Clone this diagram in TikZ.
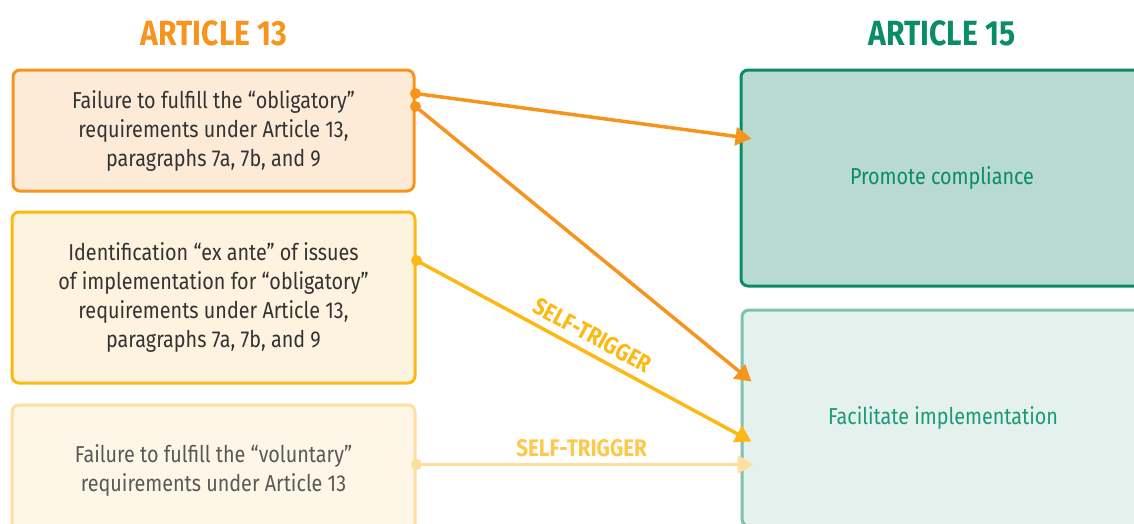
\documentclass[tikz,border=0pt]{standalone}
\usepackage{fontspec}
\setmainfont{Fira Sans}[FakeStretch=0.86]
\usetikzlibrary{arrows.meta,calc}
\definecolor{orA}{HTML}{F7941D}
\definecolor{orF}{HTML}{FDEBD8}
\definecolor{yeA}{HTML}{FDB913}
\definecolor{yeF}{HTML}{FEF3DF}
\definecolor{ltA}{HTML}{FFDF9F}
\definecolor{ltF}{HTML}{FEF6E7}
\definecolor{ltT}{HTML}{FFC84A}
\definecolor{grA}{HTML}{0A8C66}
\definecolor{grF}{HTML}{B9DAD0}
\definecolor{mgA}{HTML}{80C2AE}
\definecolor{mgF}{HTML}{E4F1ED}
\definecolor{mgT}{HTML}{1A9A78}
\definecolor{txt}{HTML}{333333}
\tikzset{
  box/.style={draw, line width=3pt, rounded corners=7pt, align=center, inner sep=0pt,
    font=\fontsize{23}{29}\selectfont},
  conn/.style={line width=3.5pt, -{Triangle[length=16pt,width=18pt]}},
  dot/.style={circle, fill, inner sep=0pt, minimum size=11pt},
  title/.style={font=\fontsize{35}{38}\selectfont\bfseries},
  trig/.style={font=\fontsize{24}{26}\selectfont\bfseries}
}
\begin{document}
\begin{tikzpicture}[x=1pt,y=-1pt]
\useasboundingbox (0,0) rectangle (1134,523);
\clip (0,0) rectangle (1134,523);
\node[title, text=orA] (t13) at (214,33) {ARTICLE 13};
\node[title, text=grA] (t15) at (942,33) {ARTICLE 15};
\node[box, draw=orA, fill=orF, text=txt, minimum width=401pt, minimum height=121pt] (b1) at (213.5,130.5)
  {Failure to fulfill the “obligatory”\\requirements under Article 13,\\paragraphs 7a, 7b, and 9};
\node[box, draw=yeA, fill=yeF, text=txt, minimum width=403pt, minimum height=171pt] (b2) at (213.5,297.5)
  {Identification “ex ante” of issues\\of implementation for “obligatory”\\requirements under Article 13,\\paragraphs 7a, 7b, and 9};
\node[box, draw=ltA, fill=ltF, text=black!65, minimum width=403pt, minimum height=130pt] (b3) at (213.5,470)
  {Failure to fulfill the “voluntary”\\requirements under Article 13};
\node[box, draw=grA, fill=grF, text=grA, minimum width=402pt, minimum height=216pt] (b4) at (942,178)
  {Promote compliance};
\node[box, draw=mgA, fill=mgF, text=mgT, minimum width=402pt, minimum height=216pt] (b5) at (943,418)
  {Facilitate implementation};
% anchor points
\coordinate (s1) at ($(b1.north east)+(0,25)$);
\coordinate (s2) at ($(b1.north east)+(0,38)$);
\coordinate (s3) at ($(b2.north east)+(0,50)$);
\coordinate (s4) at ($(b3.north east)+(0,61)$);
\coordinate (e1) at ($(b4.north west)+(12,70)$);
\coordinate (e2) at ($(b5.north west)+(11,73)$);
\coordinate (e3) at ($(b5.north west)+(11,133)$);
\coordinate (e4) at ($(b5.north west)+(13,156)$);
\draw[conn, orA] (s2) -- (e2);
\draw[conn, orA] (s1) -- (e1);
\draw[conn, yeA] (s3) -- node[pos=0.5, sloped, above=4pt, trig, text=yeA] (l1) {SELF-TRIGGER} (e3);
\draw[conn, ltA] (s4) -- node[pos=0.49, above=3pt, trig, text=ltT] (l2) {SELF-TRIGGER} (e4);
\node[dot, orA] (d1) at (s1) {};
\node[dot, orA] (d2) at (s2) {};
\node[dot, yeA] (d3) at (s3) {};
\node[dot, ltA] (d4) at (s4) {};
\end{tikzpicture}
\end{document}
